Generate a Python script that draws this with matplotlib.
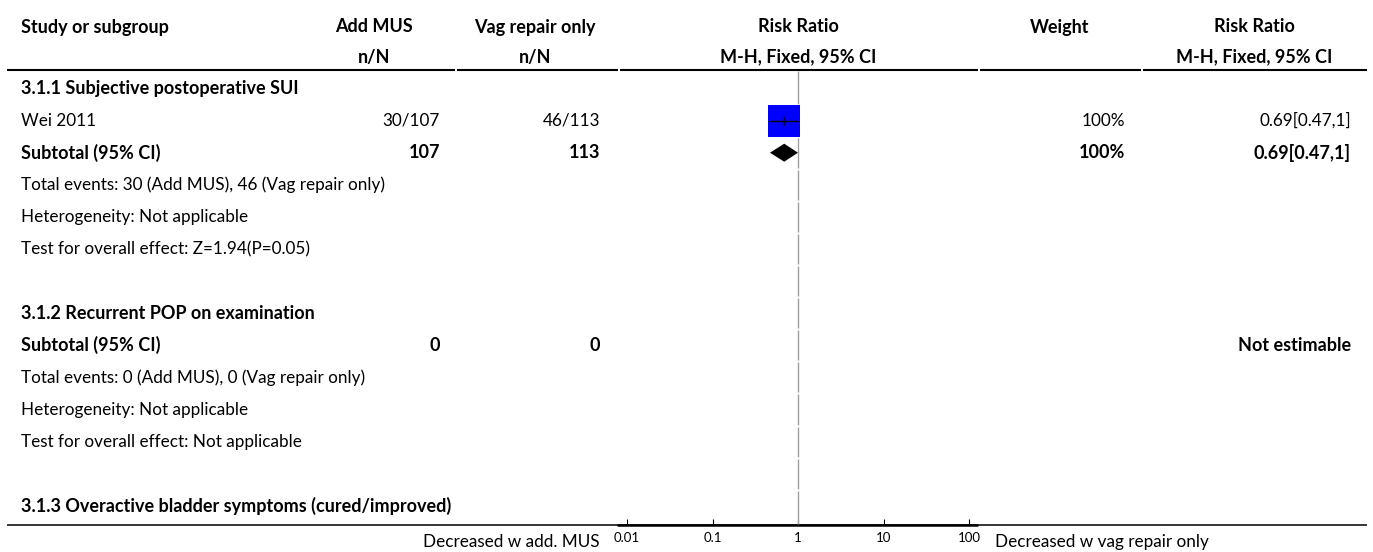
import matplotlib.pyplot as plt
import numpy as np

plt.rcParams['font.family'] = ['Lato', 'DejaVu Sans']

# Table rows, top to bottom
study_labels = [
    "3.1.1 Subjective postoperative SUI",
    "Wei 2011",
    "Subtotal (95% CI)",
    "Total events: 30 (Add MUS), 46 (Vag repair only)",
    "Heterogeneity: Not applicable",
    "Test for overall effect: Z=1.94(P=0.05)",
    "",
    "3.1.2 Recurrent POP on examination",
    "Subtotal (95% CI)",
    "Total events: 0 (Add MUS), 0 (Vag repair only)",
    "Heterogeneity: Not applicable",
    "Test for overall effect: Not applicable",
    "",
    "3.1.3 Overactive bladder symptoms (cured/improved)",
]
bold_rows = [True, False, True, False, False, False, False,
             True, True, False, False, False, False, True]
add_mus = ["", "30/107", "107", "", "", "", "", "", "0", "", "", "", "", ""]
vag_only = ["", "46/113", "113", "", "", "", "", "", "0", "", "", "", "", ""]
weights = ["", "100%", "100%", "", "", "", "", "", "", "", "", "", "", ""]
rr_text = ["", "0.69[0.47,1]", "0.69[0.47,1]", "", "", "", "", "",
           "Not estimable", "", "", "", "", ""]

# Effect estimates (row index, RR, lower, upper)
study_rows = [1]
study_rr = [0.69]
study_lo = [0.47]
study_hi = [1.0]
total_rows = [2]
total_rr = [0.69]
total_lo = [0.47]
total_hi = [1.0]

axis_ticks = [0.01, 0.1, 1, 10, 100]
axis_ticklabels = ["0.01", "0.1", "1", "10", "100"]

W, H = 1373, 552
fig = plt.figure(figsize=(W / 100, H / 100), dpi=100)

# full-figure axes in pixel units for the table text and rules
ax = fig.add_axes([0, 0, 1, 1])
ax.set_xlim(0, W)
ax.set_ylim(H, 0)
ax.axis('off')

fs = 12.3     # regular text
fsb = 13.0    # bold text
y_h1, y_h2, y_rule = 27, 57, 70
y_axis = 525
row_y = [88.5 + 32.1 * i for i in range(len(study_labels))]


def put(x, y, s, bold=False, ha='left'):
    ax.text(x, y, s, fontsize=fsb if bold else fs,
            fontweight='bold' if bold else 'normal', va='center', ha=ha)


# column header
put(21, y_h1, "Study or subgroup", True)
put(374, y_h1, "Add MUS", True, 'center')
put(374, y_h2, "n/N", True, 'center')
put(535, y_h1, "Vag repair only", True, 'center')
put(535, y_h2, "n/N", True, 'center')
put(798, y_h1, "Risk Ratio", True, 'center')
put(798, y_h2, "M-H, Fixed, 95% CI", True, 'center')
put(1060, y_h1, "Weight", True, 'center')
put(1254, y_h1, "Risk Ratio", True, 'center')
put(1254, y_h2, "M-H, Fixed, 95% CI", True, 'center')

# header rule, broken at the column edges
for x0, x1 in [(7, 455), (457, 618), (620, 978), (980, 1141), (1143, 1367)]:
    ax.plot([x0, x1], [y_rule, y_rule], color='black', lw=1.5, solid_capstyle='butt')

# bottom rule, heavier under the scale
ax.plot([7, 1367], [y_axis, y_axis], color='black', lw=1.1, solid_capstyle='butt')
ax.plot([617, 978], [y_axis, y_axis], color='black', lw=1.8, solid_capstyle='butt')

for i, y in enumerate(row_y):
    b = bold_rows[i]
    put(21, y, study_labels[i], b)
    put(440, y, add_mus[i], b, 'right')
    put(600, y, vag_only[i], b, 'right')
    put(1125, y, weights[i], b, 'right')
    put(1351, y, rr_text[i], b, 'right')

put(600, 542, "Decreased w add. MUS", ha='right')
put(995, 542, "Decreased w vag repair only")

# forest plot panel on a log scale
fx0, fx1 = 627, 969
fax = fig.add_axes([fx0 / W, (H - y_axis) / H, (fx1 - fx0) / W, (y_axis - y_rule) / H])
fax.set_xscale('log')
fax.set_xlim(0.01, 100)
fax.set_ylim(y_axis, y_rule)
fax.patch.set_alpha(0)
for s in ['top', 'left', 'right', 'bottom']:
    fax.spines[s].set_visible(False)
fax.set_yticks([])
fax.set_xticks(axis_ticks)
fax.set_xticklabels(axis_ticklabels)
fax.minorticks_off()
fax.tick_params(axis='x', direction='in', length=4, width=0.8, labelsize=9.5, pad=5)

# line of no effect, one segment per row
edges = [y_rule] + [y + 16 for y in row_y[:-1]] + [y_axis]
for a, b in zip(edges[:-1], edges[1:]):
    fax.plot([1, 1], [a + 1, b - 1], color='#a0a0a0', lw=1, solid_capstyle='butt')

for r, rr, lo, hi in zip(study_rows, study_rr, study_lo, study_hi):
    y = row_y[r]
    fax.plot([rr], [y], marker='s', markersize=22.5, color='#0000ff',
             markeredgewidth=0, clip_on=False)
    fax.plot([lo, hi], [y, y], color='black', lw=1)
    fax.plot([rr, rr], [y - 4, y + 4], color='black', lw=1)

for r, rr, lo, hi in zip(total_rows, total_rr, total_lo, total_hi):
    y = row_y[r]
    fax.fill([lo, rr, hi, rr], [y, y - 9, y, y + 9], color='black', lw=0)

fig.savefig('out.png', dpi=100)
